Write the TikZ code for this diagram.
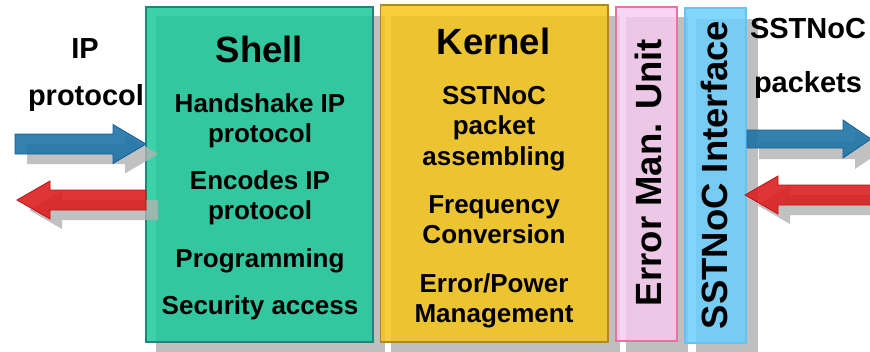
\documentclass[tikz,border=0pt]{standalone}
\usepackage{fontspec}
\setmainfont{Liberation Sans}
\usetikzlibrary{calc}
\pgfdeclarelayer{bg}
\pgfsetlayers{bg,main}
\definecolor{tealfill}{RGB}{27,201,154}
\definecolor{tealline}{RGB}{30,135,125}
\definecolor{goldfill}{RGB}{244,197,25}
\definecolor{goldline}{RGB}{175,135,40}
\definecolor{pinkfill}{RGB}{248,202,240}
\definecolor{pinkline}{RGB}{240,110,160}
\definecolor{bluefill}{RGB}{107,207,254}
\definecolor{blueline}{RGB}{100,195,245}
\definecolor{shadowc}{RGB}{191,191,191}
\definecolor{arrblue}{RGB}{30,115,165}
\definecolor{arrblueline}{RGB}{20,95,150}
\definecolor{arrred}{RGB}{218,32,32}
\definecolor{arrredline}{RGB}{195,15,20}
\def\pathLB{(15,134) -- (113,134) -- (113,124.5) -- (146,144) -- (113,163.5) -- (113,154) -- (15,154) -- cycle}
\def\pathLR{(146,190) -- (50,190) -- (50,181) -- (17,200) -- (50,219) -- (50,210) -- (146,210) -- cycle}
\def\pathRB{(747,130) -- (843,130) -- (843,120) -- (871,139) -- (843,158) -- (843,148) -- (747,148) -- cycle}
\def\pathRR{(875,185) -- (778,185) -- (778,176) -- (745,195) -- (778,214) -- (778,205) -- (875,205) -- cycle}
\begin{document}
\begin{tikzpicture}[x=1pt,y=-1pt,
  box/.style={draw, line width=1.2pt, fill opacity=0.85, inner sep=0pt, text opacity=1},
  lbl/.style={font=\bfseries\fontsize{29}{34}\selectfont, anchor=base, inner sep=0pt},
  item/.style={font=\bfseries\fontsize{26}{30.5}\selectfont, align=center, anchor=base, inner sep=0pt},
  boxtitle/.style={font=\bfseries\fontsize{36.5}{40}\selectfont, anchor=base, inner sep=0pt},
  vtext/.style={font=\bfseries\fontsize{36.5}{40}\selectfont, rotate=90, inner sep=0pt},
  arrshadow/.style={fill=black!30, fill opacity=0.8},
  bluearrow/.style={fill=arrblue, draw=arrblueline, line width=0.8pt, fill opacity=0.9},
  redarrow/.style={fill=arrred, draw=arrredline, line width=0.8pt, fill opacity=0.9}
]
\useasboundingbox (0,0) rectangle (870,351);
\clip (0,0) rectangle (870,351);
% boxes
\node[box, fill=tealfill, draw=tealline, minimum width=227pt, minimum height=335pt] (shell) at (259.5,174.5) {};
\node[box, fill=goldfill, draw=goldline, minimum width=227.5pt, minimum height=337pt] (kernel) at (494.25,173.5) {};
\node[box, fill=pinkfill, draw=pinkline, minimum width=61pt, minimum height=334pt, fill opacity=0.8] (emu) at (646.5,174) {};
\node[box, fill=bluefill, draw=blueline, minimum width=61pt, minimum height=335pt] (sif) at (715.5,175.5) {};
% box shadows
\begin{pgfonlayer}{bg}
\fill[shadowc] ($(shell.north west)+(11,10)$) rectangle ($(shell.south east)+(11,12)$);
\fill[shadowc] ($(kernel.north west)+(11,12)$) rectangle ($(kernel.south east)+(11,12)$);
\fill[shadowc] ($(emu.north west)+(11,11)$) rectangle ($(emu.south east)+(10,12)$);
\fill[shadowc] ($(sif.north west)+(12,12)$) rectangle ($(sif.south east)+(11,12)$);
\end{pgfonlayer}
% arrows
\path[arrshadow, shift={(12,10)}] \pathLB;
\path[arrshadow, shift={(12,10)}] \pathLR;
\path[arrshadow, shift={(12,11)}] \pathRB;
\path[arrshadow, shift={(12,10)}] \pathRR;
\path[bluearrow] \pathLB;
\path[redarrow] \pathLR;
\path[bluearrow] \pathRB;
\path[redarrow] \pathRR;
% outer labels
\node[lbl] (ip) at (85,58) {IP};
\node[lbl] (ipproto) at (86,105) {protocol};
\node[lbl] (sst) at (808,38) {SSTNoC};
\node[lbl] (pkts) at (808,92) {packets};
% shell text (base = baseline of last line)
\node[boxtitle] (shelltitle) at (259.5,62) {Shell};
\node[item] (hs) at (260,142.5) {Handshake IP\\protocol};
\node[item] (enc) at (260,219.5) {Encodes IP\\protocol};
\node[item] (prog) at (260,267) {Programming};
\node[item] (sec) at (260,314) {Security access};
% kernel text
\node[boxtitle] (kerneltitle) at (493.5,54) {Kernel};
\node[item] (asm) at (494,165) {SSTNoC\\packet\\assembling};
\node[item] (freq) at (494,243.5) {Frequency\\Conversion};
\node[item] (pow) at (494,322.5) {Error/Power\\Management};
% vertical texts
\node[vtext] (emutext) at (648,172.5) {Error Man. Unit};
\node[vtext] (siftext) at (714.5,175) {SSTNoC Interface};
\end{tikzpicture}
\end{document}
